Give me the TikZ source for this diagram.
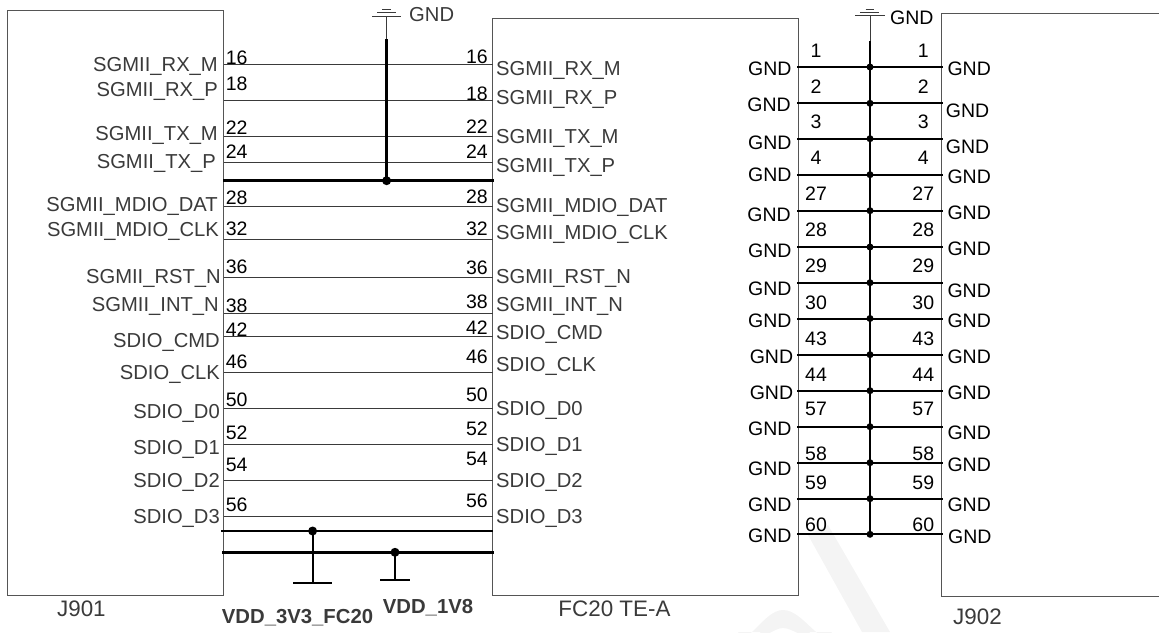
\documentclass[tikz,border=0pt]{standalone}
\usepackage{fontspec}
\setmainfont{Liberation Sans}

\definecolor{boxgray}{HTML}{555555}
\definecolor{labelgray}{HTML}{3A3A3A}
\definecolor{markgray}{HTML}{F4F4F4}

\tikzset{
  txt/.style={inner sep=0pt, text height=14pt, text depth=0pt, font=\fontsize{19.5}{20}\selectfont},
  sig/.style={txt, text=labelgray, font=\fontsize{20.2}{21}\selectfont},
  part/.style={txt, text=labelgray, font=\fontsize{22.4}{23}\selectfont},
  supply/.style={txt, text=labelgray, font=\fontsize{20.3}{21}\bfseries},
  pin/.style={txt, text=black},
  chip/.style={draw=boxgray, line width=1pt, rectangle, inner sep=0pt},
  thin wire/.style={draw=labelgray, line width=1pt},
  net/.style={draw=black, line width=2pt},
  rail/.style={draw=black, line width=2.6pt},
  dot/.style={fill=black, circle, inner sep=0pt, minimum size=#1},
  dot/.default=9pt
}

\begin{document}
\begin{tikzpicture}[x=1pt, y=-1pt]
\useasboundingbox (0,0) rectangle (1159,632);

% watermark
\fill[markgray] (808,535) -- (828,525) -- (890,632) -- (862,632) -- cycle;
\fill[markgray] (738,632) to [out=-60, in=180] (783,610) to [out=0, in=-120] (832,632) -- (810,632) to [out=-110, in=0] (783,628) to [out=180, in=-70] (760,632) -- cycle;

% boxes
\node[chip, minimum width=216pt, minimum height=585pt] (J901) at (115.5,303.2) {};
\node[chip, minimum width=305.5pt, minimum height=577.4pt] (FC20) at (645.5,307) {};
\coordinate (j2a) at (1159,13);
\coordinate (j2b) at (941.7,13);
\coordinate (j2c) at (941.7,596.3);
\coordinate (j2d) at (1159,596.3);
\draw[draw=boxgray, line width=1pt] (j2a) -- (j2b) -- (j2c) -- (j2d);

\node[part] (nJ901) at (81.4,609.7) {J901};
\node[part] (nFC20) at (614.5,609) {FC20 TE-A};
\node[part] (nJ902) at (977.5,617) {J902};
\node[supply] (n3v3) at (297.5,616) {VDD\_3V3\_FC20};
\node[supply] (n1v8) at (428,606) {VDD\_1V8};

% signal wires
\coordinate (a16) at (223.5,64.7); \coordinate (b16) at (492.8,64.7); \draw[thin wire] (a16) -- (b16);
\coordinate (a18) at (223.5,100.7); \coordinate (b18) at (492.8,100.7); \draw[thin wire] (a18) -- (b18);
\coordinate (a22) at (223.5,136.7); \coordinate (b22) at (492.8,136.7); \draw[thin wire] (a22) -- (b22);
\coordinate (a24) at (223.5,162.3); \coordinate (b24) at (492.8,162.3); \draw[thin wire] (a24) -- (b24);
\coordinate (a28) at (223.5,206); \coordinate (b28) at (492.8,206); \draw[thin wire] (a28) -- (b28);
\coordinate (a32) at (223.5,239); \coordinate (b32) at (492.8,239); \draw[thin wire] (a32) -- (b32);
\coordinate (a36) at (223.5,277.7); \coordinate (b36) at (492.8,277.7); \draw[thin wire] (a36) -- (b36);
\coordinate (a38) at (223.5,313.7); \coordinate (b38) at (492.8,313.7); \draw[thin wire] (a38) -- (b38);
\coordinate (a42) at (223.5,336.7); \coordinate (b42) at (492.8,336.7); \draw[thin wire] (a42) -- (b42);
\coordinate (a46) at (223.5,372.7); \coordinate (b46) at (492.8,372.7); \draw[thin wire] (a46) -- (b46);
\coordinate (a50) at (223.5,408.3); \coordinate (b50) at (492.8,408.3); \draw[thin wire] (a50) -- (b50);
\coordinate (a52) at (223.5,444.7); \coordinate (b52) at (492.8,444.7); \draw[thin wire] (a52) -- (b52);
\coordinate (a54) at (223.5,480.7); \coordinate (b54) at (492.8,480.7); \draw[thin wire] (a54) -- (b54);
\coordinate (a56) at (223.5,516.7); \coordinate (b56) at (492.8,516.7); \draw[thin wire] (a56) -- (b56);

% left labels
\node[sig, anchor=east] (lRXM) at (218,64) {SGMII\_RX\_M};
\node[sig, anchor=east] (lRXP) at (218,89) {SGMII\_RX\_P};
\node[sig, anchor=east] (lTXM) at (218,133) {SGMII\_TX\_M};
\node[sig, anchor=east] (lTXP) at (216,161) {SGMII\_TX\_P};
\node[sig, anchor=east] (lDAT) at (218,204.7) {SGMII\_MDIO\_DAT};
\node[sig, anchor=east] (lMCK) at (219,229) {SGMII\_MDIO\_CLK};
\node[sig, anchor=east] (lRST) at (221,276.7) {SGMII\_RST\_N};
\node[sig, anchor=east] (lINT) at (219,304.7) {SGMII\_INT\_N};
\node[sig, anchor=east] (lCMD) at (220,340) {SDIO\_CMD};
\node[sig, anchor=east] (lCLK) at (220,372) {SDIO\_CLK};
\node[sig, anchor=east] (lD0) at (220,411) {SDIO\_D0};
\node[sig, anchor=east] (lD1) at (220,447) {SDIO\_D1};
\node[sig, anchor=east] (lD2) at (220,480) {SDIO\_D2};
\node[sig, anchor=east] (lD3) at (220,516) {SDIO\_D3};

% right labels
\node[sig, anchor=west] (rRXM) at (496,68) {SGMII\_RX\_M};
\node[sig, anchor=west] (rRXP) at (496,97) {SGMII\_RX\_P};
\node[sig, anchor=west] (rTXM) at (496,136) {SGMII\_TX\_M};
\node[sig, anchor=west] (rTXP) at (496,165.7) {SGMII\_TX\_P};
\node[sig, anchor=west] (rDAT) at (496,205) {SGMII\_MDIO\_DAT};
\node[sig, anchor=west] (rMCK) at (496,232.7) {SGMII\_MDIO\_CLK};
\node[sig, anchor=west] (rRST) at (496,276.7) {SGMII\_RST\_N};
\node[sig, anchor=west] (rINT) at (496,304) {SGMII\_INT\_N};
\node[sig, anchor=west] (rCMD) at (496,332.7) {SDIO\_CMD};
\node[sig, anchor=west] (rCLK) at (496,364.7) {SDIO\_CLK};
\node[sig, anchor=west] (rD0) at (496,408) {SDIO\_D0};
\node[sig, anchor=west] (rD1) at (496,444) {SDIO\_D1};
\node[sig, anchor=west] (rD2) at (496,480) {SDIO\_D2};
\node[sig, anchor=west] (rD3) at (496,516) {SDIO\_D3};

% pin numbers
\node[pin, anchor=west] (p16) at (225.7,57) {16}; \node[pin, anchor=east] (q16) at (488,56.7) {16};
\node[pin, anchor=west] (p18) at (225.7,83) {18}; \node[pin, anchor=east] (q18) at (488,93) {18};
\node[pin, anchor=west] (p22) at (225.7,127) {22}; \node[pin, anchor=east] (q22) at (488,126) {22};
\node[pin, anchor=west] (p24) at (225.7,151) {24}; \node[pin, anchor=east] (q24) at (488,151.7) {24};
\node[pin, anchor=west] (p28) at (225.7,197) {28}; \node[pin, anchor=east] (q28) at (488,196) {28};
\node[pin, anchor=west] (p32) at (225.7,228) {32}; \node[pin, anchor=east] (q32) at (488,228) {32};
\node[pin, anchor=west] (p36) at (225.7,266) {36}; \node[pin, anchor=east] (q36) at (488,267.7) {36};
\node[pin, anchor=west] (p38) at (225.7,305) {38}; \node[pin, anchor=east] (q38) at (488,301.7) {38};
\node[pin, anchor=west] (p42) at (225.7,329) {42}; \node[pin, anchor=east] (q42) at (488,327) {42};
\node[pin, anchor=west] (p46) at (225.7,361) {46}; \node[pin, anchor=east] (q46) at (488,356) {46};
\node[pin, anchor=west] (p50) at (225.7,399) {50}; \node[pin, anchor=east] (q50) at (488,394) {50};
\node[pin, anchor=west] (p52) at (225.7,432.7) {52}; \node[pin, anchor=east] (q52) at (488,428) {52};
\node[pin, anchor=west] (p54) at (225.7,464) {54}; \node[pin, anchor=east] (q54) at (488,458) {54};
\node[pin, anchor=west] (p56) at (225.7,504.7) {56}; \node[pin, anchor=east] (q56) at (488,500) {56};

% ground rail, left
\coordinate (g1a) at (372,16); \coordinate (g1b) at (401,16); \draw[thin wire] (g1a) -- (g1b);
\coordinate (g1c) at (377,12.7); \coordinate (g1d) at (396,12.7); \draw[thin wire] (g1c) -- (g1d);
\coordinate (g1e) at (382,9.3); \coordinate (g1f) at (391,9.3); \draw[thin wire] (g1e) -- (g1f);
\node[sig, anchor=west] (nGND1) at (409,14) {GND};
\node[dot] (d1) at (386.6,180.7) {};
\coordinate (g1t) at (386.6,16); \coordinate (g1m) at (386.6,39);
\draw[thin wire] (g1t) -- (g1m);
\draw[rail] (g1m) -- (d1.center);
\coordinate (r1a) at (223,180.7); \coordinate (r1b) at (494,180.7);
\draw[rail] (r1a) -- (r1b);

% supply rails
\coordinate (r2a) at (221,531); \coordinate (r2b) at (493,531);
\draw[rail] (r2a) -- (r2b);
\coordinate (r3a) at (222,552.3); \coordinate (r3b) at (494,552.3);
\draw[rail] (r3a) -- (r3b);
\node[dot] (d2) at (312.6,531) {};
\node[dot] (d3) at (395,552.3) {};
\coordinate (v1) at (312.6,583); \coordinate (v1a) at (293.4,583); \coordinate (v1b) at (331.5,583);
\coordinate (v2) at (395,579.7); \coordinate (v2a) at (380,579.7); \coordinate (v2b) at (410,579.7);
\draw[net] (d2.center) -- (v1);
\draw[net] (v1a) -- (v1b);
\draw[net] (d3.center) -- (v2);
\draw[net] (v2a) -- (v2b);

% ground rail, right
\coordinate (g2a) at (855,15); \coordinate (g2b) at (885,15); \draw[thin wire] (g2a) -- (g2b);
\coordinate (g2c) at (860,12.3); \coordinate (g2d) at (879,12.3); \draw[thin wire] (g2c) -- (g2d);
\coordinate (g2e) at (865.7,9); \coordinate (g2f) at (874,9); \draw[thin wire] (g2e) -- (g2f);
\node[pin, anchor=west] (nGND2) at (890,17.7) {GND};
\coordinate (g2t) at (870,15); \coordinate (g2m) at (870,41); \coordinate (g2z) at (870,534.3);
\draw[thin wire] (g2t) -- (g2m);
\draw[net] (g2m) -- (g2z);

% ground pins
\tikzset{gdot/.style={dot=7pt}}
\coordinate (c1) at (797,67); \coordinate (e1) at (942.7,67); \draw[net] (c1) -- (e1); \node[gdot] (j1) at (870,67) {};
\coordinate (c2) at (797,103.3); \coordinate (e2) at (942.7,103.3); \draw[net] (c2) -- (e2); \node[gdot] (j2) at (870,103.3) {};
\coordinate (c3) at (797,138.7); \coordinate (e3) at (942.7,138.7); \draw[net] (c3) -- (e3); \node[gdot] (j3) at (870,138.7) {};
\coordinate (c4) at (797,174.7); \coordinate (e4) at (942.7,174.7); \draw[net] (c4) -- (e4); \node[gdot] (j4) at (870,174.7) {};
\coordinate (c27) at (797,210.7); \coordinate (e27) at (942.7,210.7); \draw[net] (c27) -- (e27); \node[gdot] (j27) at (870,210.7) {};
\coordinate (c28) at (797,247); \coordinate (e28) at (942.7,247); \draw[net] (c28) -- (e28); \node[gdot] (j28) at (870,247) {};
\coordinate (c29) at (797,282.7); \coordinate (e29) at (942.7,282.7); \draw[net] (c29) -- (e29); \node[gdot] (j29) at (870,282.7) {};
\coordinate (c30) at (797,318.5); \coordinate (e30) at (942.7,318.5); \draw[net] (c30) -- (e30); \node[gdot] (j30) at (870,318.5) {};
\coordinate (c43) at (797,354.7); \coordinate (e43) at (942.7,354.7); \draw[net] (c43) -- (e43); \node[gdot] (j43) at (870,354.7) {};
\coordinate (c44) at (797,390.7); \coordinate (e44) at (942.7,390.7); \draw[net] (c44) -- (e44); \node[gdot] (j44) at (870,390.7) {};
\coordinate (c57) at (797,426.7); \coordinate (e57) at (942.7,426.7); \draw[net] (c57) -- (e57); \node[gdot] (j57) at (870,426.7) {};
\coordinate (c58) at (797,462.7); \coordinate (e58) at (942.7,462.7); \draw[net] (c58) -- (e58); \node[gdot] (j58) at (870,462.7) {};
\coordinate (c59) at (797,498.7); \coordinate (e59) at (942.7,498.7); \draw[net] (c59) -- (e59); \node[gdot] (j59) at (870,498.7) {};
\coordinate (c60) at (797,534.3); \coordinate (e60) at (942.7,534.3); \draw[net] (c60) -- (e60); \node[gdot] (j60) at (870,534.3) {};

\node[pin] (s1) at (816,50) {1}; \node[pin] (t1) at (923.3,50) {1};
\node[pin] (s2) at (816,86) {2}; \node[pin] (t2) at (923.3,86) {2};
\node[pin] (s3) at (816,121.7) {3}; \node[pin] (t3) at (923.3,121.7) {3};
\node[pin] (s4) at (816,157.7) {4}; \node[pin] (t4) at (923.3,157.7) {4};
\node[pin] (s27) at (816,193.7) {27}; \node[pin] (t27) at (923.3,193.7) {27};
\node[pin] (s28) at (816,229.7) {28}; \node[pin] (t28) at (923.3,229.7) {28};
\node[pin] (s29) at (816,265.7) {29}; \node[pin] (t29) at (923.3,265.7) {29};
\node[pin] (s30) at (816,302) {30}; \node[pin] (t30) at (923.3,302) {30};
\node[pin] (s43) at (816,338) {43}; \node[pin] (t43) at (923.3,338) {43};
\node[pin] (s44) at (816,374) {44}; \node[pin] (t44) at (923.3,374) {44};
\node[pin] (s57) at (816,408) {57}; \node[pin] (t57) at (923.3,408) {57};
\node[pin] (s58) at (816,453) {58}; \node[pin] (t58) at (923.3,453) {58};
\node[pin] (s59) at (816,482) {59}; \node[pin] (t59) at (923.3,482) {59};
\node[pin] (s60) at (816,524.7) {60}; \node[pin] (t60) at (923.3,524.7) {60};

\node[pin, anchor=east] (u1) at (791.7,68.3) {GND}; \node[pin, anchor=west] (w1) at (947.3,68.3) {GND};
\node[pin, anchor=east] (u2) at (791,104) {GND}; \node[pin, anchor=west] (w2) at (945.7,110) {GND};
\node[pin, anchor=east] (u3) at (791.7,142.3) {GND}; \node[pin, anchor=west] (w3) at (945.7,146) {GND};
\node[pin, anchor=east] (u4) at (791.7,174) {GND}; \node[pin, anchor=west] (w4) at (947.3,176) {GND};
\node[pin, anchor=east] (u27) at (791,214) {GND}; \node[pin, anchor=west] (w27) at (947.3,212) {GND};
\node[pin, anchor=east] (u28) at (791.7,250) {GND}; \node[pin, anchor=west] (w28) at (947.3,248) {GND};
\node[pin, anchor=east] (u29) at (791.7,288.3) {GND}; \node[pin, anchor=west] (w29) at (947.3,290) {GND};
\node[pin, anchor=east] (u30) at (791.7,320) {GND}; \node[pin, anchor=west] (w30) at (947.3,320) {GND};
\node[pin, anchor=east] (u43) at (793.3,356) {GND}; \node[pin, anchor=west] (w43) at (947.3,356) {GND};
\node[pin, anchor=east] (u44) at (793.3,392) {GND}; \node[pin, anchor=west] (w44) at (947.3,392) {GND};
\node[pin, anchor=east] (u57) at (791.7,428) {GND}; \node[pin, anchor=west] (w57) at (947.3,432.7) {GND};
\node[pin, anchor=east] (u58) at (791.7,468.7) {GND}; \node[pin, anchor=west] (w58) at (947.3,464) {GND};
\node[pin, anchor=east] (u59) at (791.7,504.7) {GND}; \node[pin, anchor=west] (w59) at (947.3,504.7) {GND};
\node[pin, anchor=east] (u60) at (791.7,535.3) {GND}; \node[pin, anchor=west] (w60) at (948,536) {GND};
\end{tikzpicture}
\end{document}
